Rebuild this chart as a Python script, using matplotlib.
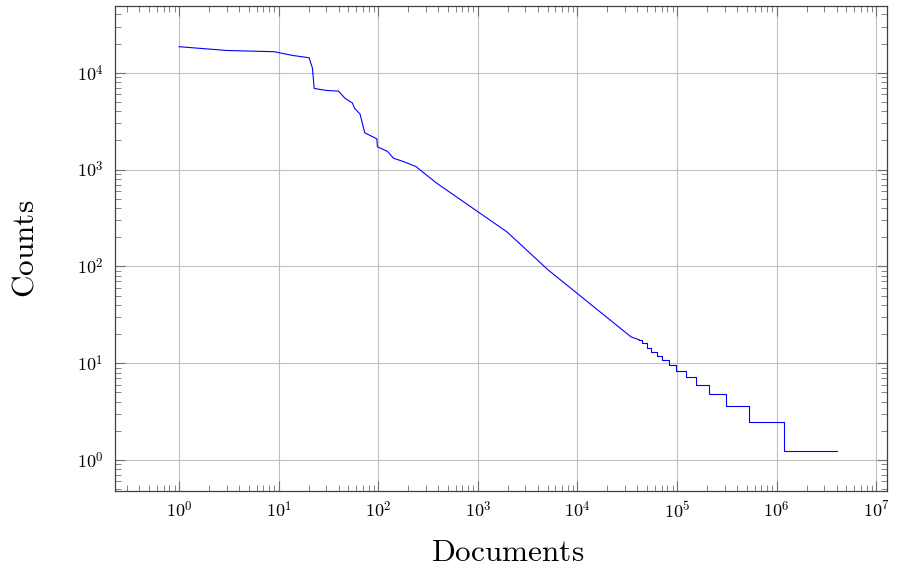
import math
import matplotlib
matplotlib.use('Agg')
import matplotlib.pyplot as plt
from matplotlib.ticker import FixedLocator, LogLocator, FuncFormatter, NullFormatter

plt.rcParams['mathtext.fontset'] = 'cm'

# smooth part of the curve
docs = [1.0, 3.0, 9.06, 13.8, 20.2, 21.8, 22.7, 30.4, 39.8, 46.5, 55, 57.6, 65.6,
        73.1, 96.6, 98, 124, 142, 179, 238, 386, 1960, 5070, 34500, 41900]
counts = [18600, 17000, 16500, 15100, 14300, 11200, 6890, 6560, 6470, 5430, 4870,
          4310, 3740, 2400, 2080, 1720, 1540, 1310, 1210, 1076, 724, 227, 92, 18.7, 17.4]

# stair part of the tail
step_docs = [41900, 44900, 49600, 54400, 62500, 71100, 83100, 98500, 122000,
             154000, 211000, 310000, 528000, 1190000, 4070000]
step_counts = [17.4, 16.1, 14.3, 13.1, 11.9, 10.7, 9.6, 8.4, 7.2, 6.0, 4.8,
               3.6, 2.45, 1.23, 1.23]

x_ticks = [1e0, 1e1, 1e2, 1e3, 1e4, 1e5, 1e6, 1e7]
y_ticks = [1e0, 1e1, 1e2, 1e3, 1e4]

fig = plt.figure(figsize=(8.99, 5.70), dpi=100)
ax = fig.add_axes([0.128, 0.1386, 0.8587, 0.8509])

ax.plot(docs, counts, color='#0000ff', lw=0.8)
ax.plot(step_docs, step_counts, color='#0000ff', lw=0.8, drawstyle='steps-post')

ax.set_xscale('log')
ax.set_yscale('log')
ax.set_xlim(10 ** -0.643, 10 ** 7.108)
ax.set_ylim(10 ** -0.32, 10 ** 4.69)

fmt = FuncFormatter(lambda v, p: r'$10^{%d}$' % round(math.log10(v)))
ax.xaxis.set_major_locator(FixedLocator(x_ticks))
ax.yaxis.set_major_locator(FixedLocator(y_ticks))
for axis in (ax.xaxis, ax.yaxis):
    axis.set_minor_locator(LogLocator(base=10, subs=range(2, 10), numticks=20))
    axis.set_major_formatter(fmt)
    axis.set_minor_formatter(NullFormatter())

ax.grid(True, which='major', color='#c0c0c0', lw=0.8)
ax.set_axisbelow(True)
ax.tick_params(which='both', direction='in', top=True, right=True, color='#707070')
ax.tick_params(which='major', length=7, width=0.8, labelsize=13)
ax.tick_params(which='minor', length=4.3, width=0.6)
ax.tick_params(axis='x', which='major', pad=7)
ax.tick_params(axis='y', which='major', pad=8.5)
for s in ax.spines.values():
    s.set_color('#404040')
    s.set_linewidth(0.9)

ax.set_xlabel(r'$\mathrm{Documents}$', fontsize=22.5, labelpad=12)
ax.xaxis.label.set_x(0.509)
ax.set_ylabel(r'$\mathrm{Counts}$', fontsize=22.5, labelpad=27)

fig.savefig('out.png', dpi=100)
